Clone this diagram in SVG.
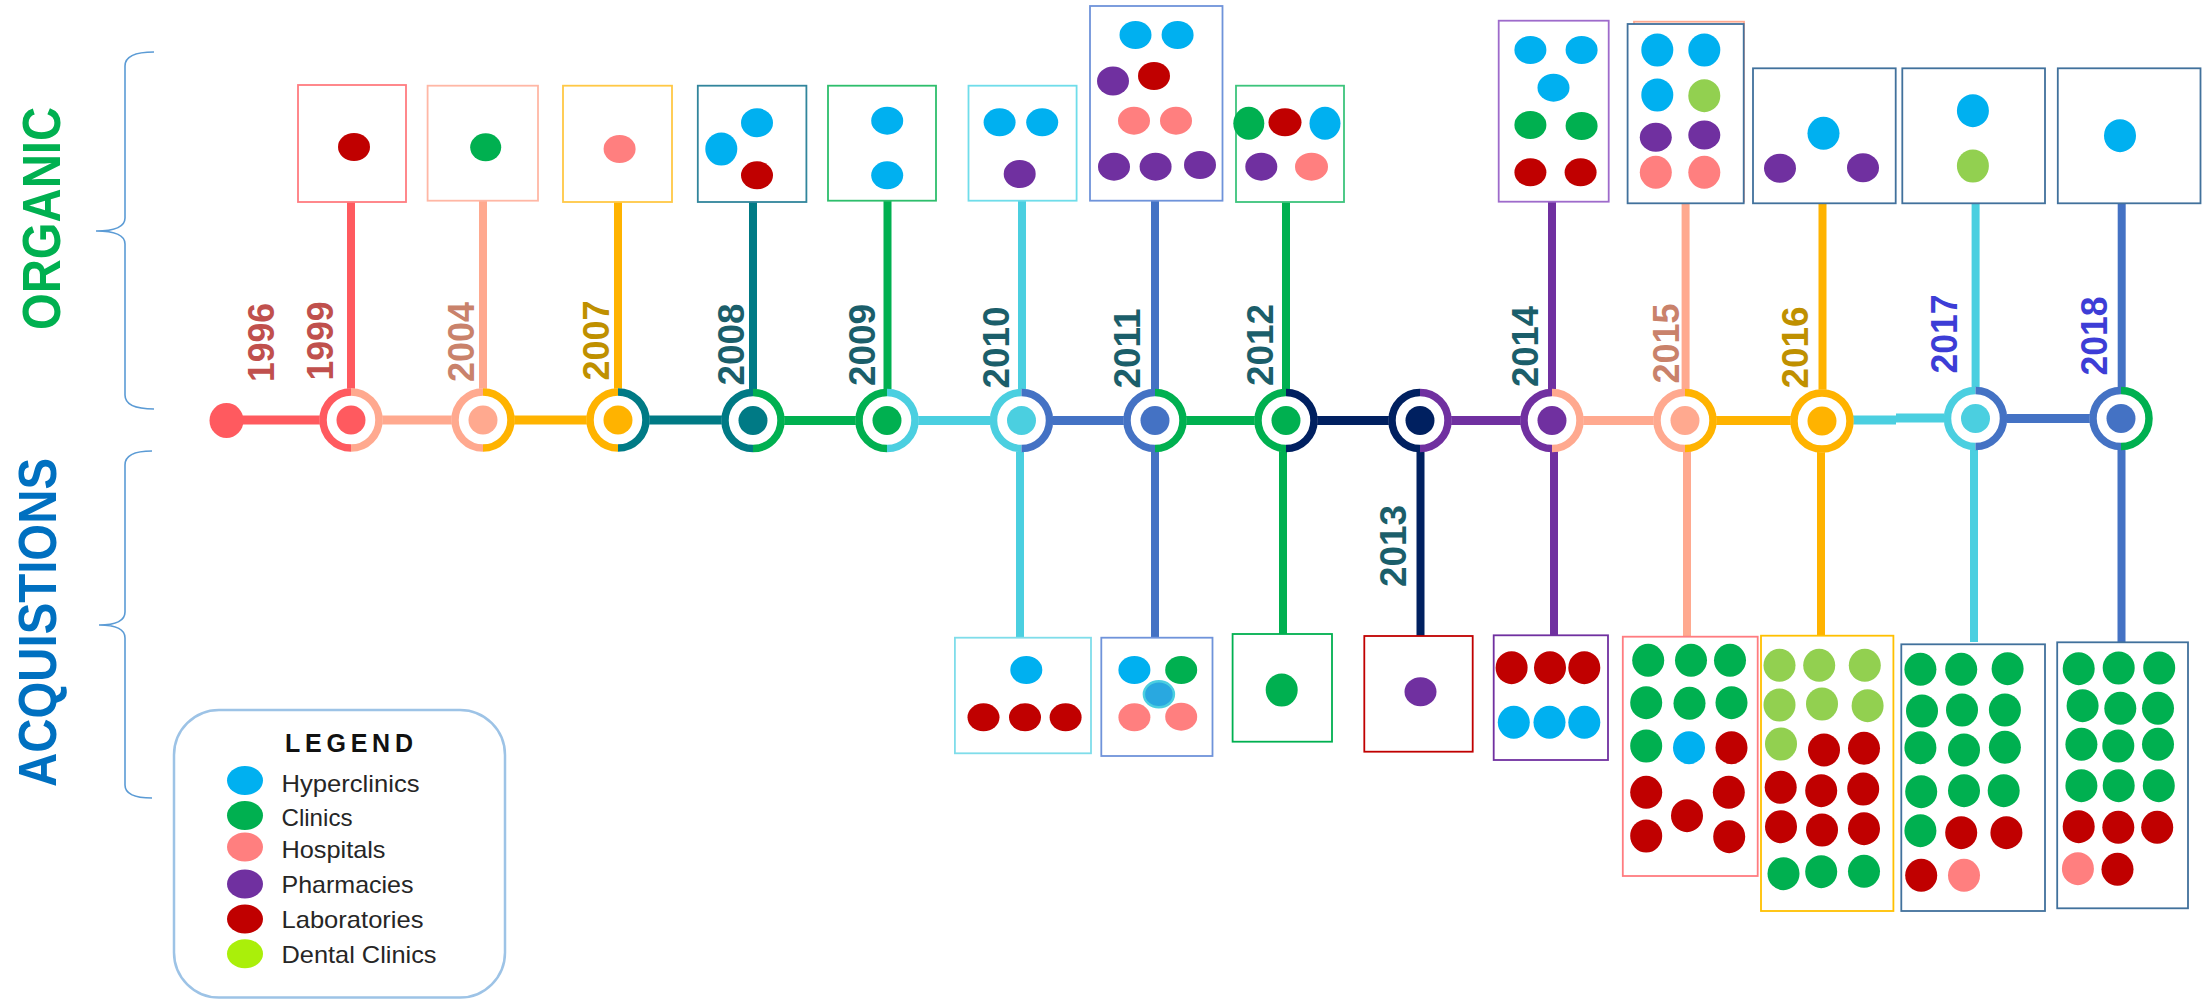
<svg xmlns="http://www.w3.org/2000/svg" width="2202" height="1001" viewBox="0 0 2202 1001">
<style>
.bx{fill:#fff;stroke-width:1.8}
.c{fill:#00B0F0}.g{fill:#00B050}.p{fill:#FF7F7F}.u{fill:#7030A0}.r{fill:#C00000}.l{fill:#92D050}
.yr{font-family:"Liberation Sans",Arial,sans-serif;font-weight:bold;font-size:37.5px}
.big{font-family:"Liberation Sans",Arial,sans-serif;font-weight:bold;font-size:53px}
.lg{font-family:"Liberation Sans",Arial,sans-serif;font-size:24px;fill:#262626}
.rg{fill:none;stroke-width:7.5}
.hl{fill:#fff}
.brace{fill:none;stroke:#5B9BD5;stroke-width:1.6}
.seg{stroke-width:9;fill:none}
.vl{stroke-width:8;fill:none}
</style>

<!-- side labels and braces -->
<g id="side">
<text class="big" fill="#00B050" transform="translate(60,330) rotate(-90)" textLength="223" lengthAdjust="spacingAndGlyphs">ORGANIC</text>
<text class="big" fill="#0070C0" transform="translate(56,787) rotate(-90)" textLength="329" lengthAdjust="spacingAndGlyphs">ACQUISTIONS</text>
<path class="brace" d="M154,52 Q125,52 125,66 L125,218 Q125,231 96,231 Q125,231 125,244 L125,395 Q125,409 154,409"/>
<path class="brace" d="M152,451 Q125,451 125,465 L125,612 Q125,625 99,625 Q125,625 125,638 L125,785 Q125,798 152,798"/>
</g>

<!-- connectors -->
<g id="connectors">
<line class="seg" x1="227" y1="420" x2="351" y2="420" stroke="#FF5A5F"/>
<line class="seg" x1="351" y1="420" x2="483" y2="420" stroke="#FFA98F"/>
<line class="seg" x1="483" y1="420" x2="618" y2="420" stroke="#FFB300"/>
<line class="seg" x1="618" y1="420" x2="753" y2="420" stroke="#007A85"/>
<line class="seg" x1="753" y1="420.5" x2="887" y2="420.5" stroke="#00B050"/>
<line class="seg" x1="887" y1="420.5" x2="1021.5" y2="420.5" stroke="#4BCFE0"/>
<line class="seg" x1="1021.5" y1="420.5" x2="1155" y2="420.5" stroke="#4472C4"/>
<line class="seg" x1="1155" y1="420.5" x2="1286" y2="420.5" stroke="#00B050"/>
<line class="seg" x1="1286" y1="420.5" x2="1420" y2="420.5" stroke="#002060"/>
<line class="seg" x1="1420" y1="420.5" x2="1552" y2="420.5" stroke="#7030A0"/>
<line class="seg" x1="1552" y1="420.5" x2="1685" y2="420.5" stroke="#FFA98F"/>
<line class="seg" x1="1685" y1="420.5" x2="1822" y2="420.5" stroke="#FFB300"/>
<line class="seg" x1="1822" y1="420" x2="1896" y2="420" stroke="#4BCFE0"/>
<line class="seg" x1="1896" y1="418" x2="1975.5" y2="418" stroke="#4BCFE0"/>
<line class="seg" x1="1975.5" y1="418.5" x2="2121" y2="418.5" stroke="#4472C4" stroke-width="10"/>

<line class="vl" x1="351" y1="202" x2="351" y2="420" stroke="#FF5A5F"/>
<line class="vl" x1="483" y1="200" x2="483" y2="420" stroke="#FFA98F"/>
<line class="vl" x1="618" y1="202" x2="618" y2="420" stroke="#FFB300"/>
<line class="vl" x1="753" y1="202" x2="753" y2="420" stroke="#007A85"/>
<line class="vl" x1="887.5" y1="200" x2="887.5" y2="420" stroke="#00B050"/>
<line class="vl" x1="1022" y1="200" x2="1022" y2="420" stroke="#4BCFE0"/>
<line class="vl" x1="1155" y1="200" x2="1155" y2="420" stroke="#4472C4"/>
<line class="vl" x1="1286" y1="202" x2="1286" y2="420" stroke="#00B050"/>
<line class="vl" x1="1552" y1="201" x2="1552" y2="420" stroke="#7030A0"/>
<line class="vl" x1="1685.6" y1="203" x2="1685.6" y2="420" stroke="#FFA98F"/>
<line class="vl" x1="1822.5" y1="203" x2="1822.5" y2="420" stroke="#FFB300"/>
<line class="vl" x1="1975.6" y1="203" x2="1975.6" y2="418" stroke="#4BCFE0"/>
<line class="vl" x1="2121.7" y1="203" x2="2121.7" y2="418" stroke="#4472C4"/>

<line class="vl" x1="1020" y1="420" x2="1020" y2="638" stroke="#4BCFE0"/>
<line class="vl" x1="1155" y1="420" x2="1155" y2="638" stroke="#4472C4"/>
<line class="vl" x1="1283" y1="420" x2="1283" y2="634" stroke="#00B050"/>
<line class="vl" x1="1420.5" y1="420" x2="1420.5" y2="636" stroke="#002060"/>
<line class="vl" x1="1554" y1="420" x2="1554" y2="635" stroke="#7030A0"/>
<line class="vl" x1="1687" y1="420" x2="1687" y2="637" stroke="#FFA98F"/>
<line class="vl" x1="1821" y1="420" x2="1821" y2="636" stroke="#FFB300"/>
<line class="vl" x1="1974" y1="418" x2="1974" y2="642" stroke="#4BCFE0"/>
<line class="vl" x1="2121.5" y1="418" x2="2121.5" y2="642" stroke="#4472C4"/>
</g>

<!-- 1996 -->
<g id="y1996">
<ellipse cx="226.5" cy="420.5" rx="17" ry="17.5" fill="#FF5A5F"/>
<text class="yr" fill="#C0504D" transform="translate(274,382) rotate(-90)" textLength="79" lengthAdjust="spacingAndGlyphs">1996</text>
</g>

<!-- 1999 -->
<g id="y1999">
<rect class="bx" x="298" y="85" width="108" height="117" stroke="#FF7C80"/>
<ellipse class="r" cx="354" cy="147" rx="16" ry="14"/>
<circle class="hl" cx="351" cy="420" r="31.5"/>
<path class="rg" stroke="#FF5A5F" d="M351,392 A28,28 0 0 0 351,448"/>
<path class="rg" stroke="#FFA98F" d="M351,392 A28,28 0 0 1 351,448"/>
<circle cx="351" cy="420" r="14.5" fill="#FF5A5F"/>
<text class="yr" fill="#C0504D" transform="translate(333,380.5) rotate(-90)" textLength="79" lengthAdjust="spacingAndGlyphs">1999</text>
</g>

<!-- 2004 -->
<g id="y2004">
<rect class="bx" x="427.6" y="85.7" width="110.4" height="115" stroke="#FFB7A5"/>
<ellipse class="g" cx="485.7" cy="147.3" rx="15.5" ry="14"/>
<circle class="hl" cx="483" cy="420" r="31.5"/>
<path class="rg" stroke="#FFA98F" d="M483,392 A28,28 0 0 0 483,448"/>
<path class="rg" stroke="#FFB300" d="M483,392 A28,28 0 0 1 483,448"/>
<circle cx="483" cy="420" r="14.5" fill="#FFA98F"/>
<text class="yr" fill="#C9826B" transform="translate(474,382) rotate(-90)" textLength="80" lengthAdjust="spacingAndGlyphs">2004</text>
</g>

<!-- 2007 -->
<g id="y2007">
<rect class="bx" x="563" y="85.7" width="109" height="116.3" stroke="#FFC845"/>
<ellipse class="p" cx="619.6" cy="149" rx="16" ry="14"/>
<circle class="hl" cx="618" cy="420" r="31.5"/>
<path class="rg" stroke="#FFB300" d="M618,392 A28,28 0 0 0 618,448"/>
<path class="rg" stroke="#007A85" d="M618,392 A28,28 0 0 1 618,448"/>
<circle cx="618" cy="420" r="14.5" fill="#FFB300"/>
<text class="yr" fill="#BF9000" transform="translate(609,380.5) rotate(-90)" textLength="80" lengthAdjust="spacingAndGlyphs">2007</text>
</g>

<!-- 2008 -->
<g id="y2008">
<rect class="bx" x="697.8" y="85.7" width="108.6" height="116.3" stroke="#31859C"/>
<ellipse class="c" cx="757" cy="122.7" rx="16" ry="14.5"/>
<ellipse class="c" cx="721.3" cy="149" rx="16" ry="16.5"/>
<ellipse class="r" cx="757" cy="175.3" rx="16" ry="14"/>
<circle class="hl" cx="753" cy="420.5" r="31.5"/>
<path class="rg" stroke="#007A85" d="M753,392.5 A28,28 0 0 0 753,448.5"/>
<path class="rg" stroke="#00B050" d="M753,392.5 A28,28 0 0 1 753,448.5"/>
<circle cx="753" cy="420.5" r="14.5" fill="#007A85"/>
<text class="yr" fill="#1B5E6A" transform="translate(743.5,385.5) rotate(-90)" textLength="82" lengthAdjust="spacingAndGlyphs">2008</text>
</g>

<!-- 2009 -->
<g id="y2009">
<rect class="bx" x="828" y="85.7" width="108" height="115" stroke="#2DBE6C"/>
<ellipse class="c" cx="887.2" cy="120.7" rx="16" ry="14"/>
<ellipse class="c" cx="887.2" cy="175.3" rx="16" ry="14"/>
<circle class="hl" cx="887" cy="420.5" r="31.5"/>
<path class="rg" stroke="#00B050" d="M887,392.5 A28,28 0 0 0 887,448.5"/>
<path class="rg" stroke="#4BCFE0" d="M887,392.5 A28,28 0 0 1 887,448.5"/>
<circle cx="887" cy="420.5" r="14.5" fill="#00B050"/>
<text class="yr" fill="#1B5E6A" transform="translate(874.5,386) rotate(-90)" textLength="82" lengthAdjust="spacingAndGlyphs">2009</text>
</g>

<!-- 2010 -->
<g id="y2010">
<rect class="bx" x="968.5" y="85.7" width="108.1" height="115" stroke="#6FDDEA"/>
<ellipse class="c" cx="999.6" cy="122.3" rx="16" ry="14"/>
<ellipse class="c" cx="1042.2" cy="122.3" rx="16" ry="14"/>
<ellipse class="u" cx="1019.7" cy="174" rx="16" ry="14"/>
<rect class="bx" x="954.9" y="637.7" width="136.1" height="115.6" stroke="#7FDDEA"/>
<ellipse class="c" cx="1026.3" cy="670" rx="16" ry="14"/>
<ellipse class="r" cx="983.5" cy="717.3" rx="16" ry="14"/>
<ellipse class="r" cx="1025" cy="717.3" rx="16" ry="14"/>
<ellipse class="r" cx="1065.6" cy="717.3" rx="16" ry="14"/>
<circle class="hl" cx="1021.5" cy="420.5" r="31.5"/>
<path class="rg" stroke="#4BCFE0" d="M1021.5,392.5 A28,28 0 0 0 1021.5,448.5"/>
<path class="rg" stroke="#4472C4" d="M1021.5,392.5 A28,28 0 0 1 1021.5,448.5"/>
<circle cx="1021.5" cy="420.5" r="14.5" fill="#4BCFE0"/>
<text class="yr" fill="#1B5E6A" transform="translate(1009,388.5) rotate(-90)" textLength="82" lengthAdjust="spacingAndGlyphs">2010</text>
</g>

<!-- 2011 -->
<g id="y2011">
<rect class="bx" x="1090" y="6" width="132.5" height="194.7" stroke="#6F93DA"/>
<ellipse class="c" cx="1135.5" cy="35" rx="16" ry="14"/>
<ellipse class="c" cx="1177.6" cy="35" rx="16" ry="14"/>
<ellipse class="u" cx="1113" cy="81" rx="16" ry="14.5"/>
<ellipse class="r" cx="1154" cy="76" rx="16" ry="14"/>
<ellipse class="p" cx="1134" cy="120.7" rx="16" ry="14"/>
<ellipse class="p" cx="1176" cy="120.7" rx="16" ry="14"/>
<ellipse class="u" cx="1114" cy="166.7" rx="16" ry="14"/>
<ellipse class="u" cx="1155.6" cy="166.7" rx="16" ry="14"/>
<ellipse class="u" cx="1200" cy="165" rx="16" ry="14"/>
<rect class="bx" x="1101.3" y="637.7" width="111.2" height="118.3" stroke="#6F93DA"/>
<ellipse class="c" cx="1134.4" cy="670" rx="16" ry="14"/>
<ellipse class="g" cx="1181.2" cy="670" rx="16" ry="14"/>
<ellipse class="p" cx="1134.4" cy="717.3" rx="16" ry="14"/>
<ellipse class="p" cx="1181.2" cy="716.7" rx="16" ry="14"/>
<ellipse cx="1158.9" cy="694.3" rx="15" ry="13" fill="#29A8E0" stroke="#4BCFE0" stroke-width="2.5"/>
<circle class="hl" cx="1155" cy="420.5" r="31.5"/>
<path class="rg" stroke="#4472C4" d="M1155,392.5 A28,28 0 0 0 1155,448.5"/>
<path class="rg" stroke="#00B050" d="M1155,392.5 A28,28 0 0 1 1155,448.5"/>
<circle cx="1155" cy="420.5" r="14.5" fill="#4472C4"/>
<text class="yr" fill="#1B5E6A" transform="translate(1139.5,388.5) rotate(-90)" textLength="80" lengthAdjust="spacingAndGlyphs">2011</text>
</g>

<!-- 2012 -->
<g id="y2012">
<rect class="bx" x="1236" y="85.7" width="108" height="116.3" stroke="#3CC47C"/>
<ellipse class="g" cx="1248.8" cy="123.3" rx="15.5" ry="16.5"/>
<ellipse class="r" cx="1285" cy="122.3" rx="16.5" ry="14"/>
<ellipse class="c" cx="1325" cy="123.3" rx="15.5" ry="16.5"/>
<ellipse class="u" cx="1261.3" cy="166.7" rx="16" ry="14"/>
<ellipse class="p" cx="1311.5" cy="166.7" rx="16.5" ry="14"/>
<rect class="bx" x="1232.6" y="634" width="99.4" height="107.7" stroke="#00B050" stroke-width="2.5"/>
<ellipse class="g" cx="1281.7" cy="690" rx="16" ry="16.5"/>
<circle class="hl" cx="1286" cy="420.5" r="31.5"/>
<path class="rg" stroke="#00B050" d="M1286,392.5 A28,28 0 0 0 1286,448.5"/>
<path class="rg" stroke="#002060" d="M1286,392.5 A28,28 0 0 1 1286,448.5"/>
<circle cx="1286" cy="420.5" r="14.5" fill="#00B050"/>
<text class="yr" fill="#1B5E6A" transform="translate(1272.5,386) rotate(-90)" textLength="82" lengthAdjust="spacingAndGlyphs">2012</text>
</g>

<!-- 2013 -->
<g id="y2013">
<rect class="bx" x="1364.3" y="636" width="108.4" height="115.7" stroke="#C00000" stroke-width="2"/>
<ellipse class="u" cx="1420.5" cy="691.7" rx="16" ry="14.5"/>
<circle class="hl" cx="1420" cy="420.5" r="31.5"/>
<path class="rg" stroke="#002060" d="M1420,392.5 A28,28 0 0 0 1420,448.5"/>
<path class="rg" stroke="#7030A0" d="M1420,392.5 A28,28 0 0 1 1420,448.5"/>
<circle cx="1420" cy="420.5" r="14.5" fill="#002060"/>
<text class="yr" fill="#1B5E6A" transform="translate(1405.5,587) rotate(-90)" textLength="82" lengthAdjust="spacingAndGlyphs">2013</text>
</g>

<!-- 2014 -->
<g id="y2014">
<rect class="bx" x="1498.7" y="20.7" width="110" height="181" stroke="#9E6BCB"/>
<ellipse class="c" cx="1530.4" cy="50" rx="16" ry="14"/>
<ellipse class="c" cx="1581.6" cy="50" rx="16" ry="14"/>
<ellipse class="c" cx="1553.5" cy="87.7" rx="16" ry="14"/>
<ellipse class="g" cx="1530.4" cy="125" rx="16" ry="14"/>
<ellipse class="g" cx="1581.6" cy="126" rx="16" ry="14"/>
<ellipse class="r" cx="1530.4" cy="172.3" rx="16" ry="14"/>
<ellipse class="r" cx="1580.6" cy="172.3" rx="16" ry="14"/>
<rect class="bx" x="1493.7" y="635.3" width="114.3" height="124.7" stroke="#7030A0" stroke-width="2.5"/>
<ellipse class="r" cx="1511.6" cy="667.7" rx="16" ry="16.5"/>
<ellipse class="r" cx="1550" cy="667.7" rx="16" ry="16.5"/>
<ellipse class="r" cx="1584.3" cy="667.7" rx="16" ry="16.5"/>
<ellipse class="c" cx="1513.8" cy="722.3" rx="16" ry="16.5"/>
<ellipse class="c" cx="1549.5" cy="722.3" rx="16" ry="16.5"/>
<ellipse class="c" cx="1584.3" cy="722.3" rx="16" ry="16.5"/>
<circle class="hl" cx="1552" cy="420.5" r="31.5"/>
<path class="rg" stroke="#7030A0" d="M1552,392.5 A28,28 0 0 0 1552,448.5"/>
<path class="rg" stroke="#FFA98F" d="M1552,392.5 A28,28 0 0 1 1552,448.5"/>
<circle cx="1552" cy="420.5" r="14.5" fill="#7030A0"/>
<text class="yr" fill="#1B5E6A" transform="translate(1537.5,387) rotate(-90)" textLength="81" lengthAdjust="spacingAndGlyphs">2014</text>
</g>

<!-- 2015 -->
<g id="y2015">
<rect class="bx" x="1634" y="21.7" width="110" height="180" stroke="#FFA98F"/>
<rect class="bx" x="1627.6" y="24" width="116.1" height="179.3" stroke="#41719C" stroke-width="2.5"/>
<ellipse class="c" cx="1657.3" cy="50" rx="16" ry="16.5"/>
<ellipse class="c" cx="1704.3" cy="50" rx="16" ry="16.5"/>
<ellipse class="c" cx="1657.3" cy="95" rx="16" ry="16.5"/>
<ellipse class="l" cx="1704.3" cy="95.7" rx="16" ry="16.5"/>
<ellipse class="u" cx="1655.8" cy="137.3" rx="16" ry="14.5"/>
<ellipse class="u" cx="1704.3" cy="135" rx="16" ry="14.5"/>
<ellipse class="p" cx="1655.8" cy="172.3" rx="16" ry="16.5"/>
<ellipse class="p" cx="1704.3" cy="172.3" rx="16" ry="16.5"/>
<rect class="bx" x="1622.8" y="636.7" width="134.9" height="239.3" stroke="#FF7C80" stroke-width="2.5"/>
<ellipse class="g" cx="1648.2" cy="660.3" rx="16" ry="16.5"/>
<ellipse class="g" cx="1691" cy="660.3" rx="16" ry="16.5"/>
<ellipse class="g" cx="1730" cy="660.3" rx="16" ry="16.5"/>
<ellipse class="g" cx="1646.2" cy="702.7" rx="16" ry="16.5"/>
<ellipse class="g" cx="1689.5" cy="703.3" rx="16" ry="16.5"/>
<ellipse class="g" cx="1731.5" cy="702.7" rx="16" ry="16.5"/>
<ellipse class="g" cx="1646.2" cy="746" rx="16" ry="16.5"/>
<ellipse class="c" cx="1689" cy="747.7" rx="16" ry="16.5"/>
<ellipse class="r" cx="1731.5" cy="747.7" rx="16" ry="16.5"/>
<ellipse class="r" cx="1646.2" cy="792.3" rx="16" ry="16.5"/>
<ellipse class="r" cx="1687" cy="815.7" rx="16" ry="16.5"/>
<ellipse class="r" cx="1728.8" cy="792.3" rx="16" ry="16.5"/>
<ellipse class="r" cx="1646.2" cy="836" rx="16" ry="16.5"/>
<ellipse class="r" cx="1729.2" cy="836.7" rx="16" ry="16.5"/>
<circle class="hl" cx="1685" cy="420.5" r="31.5"/>
<path class="rg" stroke="#FFA98F" d="M1685,392.5 A28,28 0 0 0 1685,448.5"/>
<path class="rg" stroke="#FFB300" d="M1685,392.5 A28,28 0 0 1 1685,448.5"/>
<circle cx="1685" cy="420.5" r="14.5" fill="#FFA98F"/>
<text class="yr" fill="#C9826B" transform="translate(1679,383.5) rotate(-90)" textLength="80" lengthAdjust="spacingAndGlyphs">2015</text>
</g>

<!-- 2016 -->
<g id="y2016">
<rect class="bx" x="1753" y="68.3" width="142.7" height="135" stroke="#41719C" stroke-width="2.5"/>
<ellipse class="c" cx="1823.5" cy="133.3" rx="16" ry="16.5"/>
<ellipse class="u" cx="1780" cy="168.3" rx="16" ry="14.5"/>
<ellipse class="u" cx="1863" cy="167.7" rx="16" ry="14.5"/>
<rect class="bx" x="1761" y="635.7" width="132.4" height="275.3" stroke="#FFC000" stroke-width="3"/>
<ellipse class="l" cx="1779.5" cy="665.3" rx="16" ry="16.5"/>
<ellipse class="l" cx="1819.2" cy="665.3" rx="16" ry="16.5"/>
<ellipse class="l" cx="1864.8" cy="665.3" rx="16" ry="16.5"/>
<ellipse class="l" cx="1779.5" cy="705" rx="16" ry="16.5"/>
<ellipse class="l" cx="1822" cy="704" rx="16" ry="16.5"/>
<ellipse class="l" cx="1867.6" cy="705.7" rx="16" ry="16.5"/>
<ellipse class="l" cx="1781" cy="744" rx="16" ry="16.5"/>
<ellipse class="r" cx="1824" cy="750" rx="16" ry="16.5"/>
<ellipse class="r" cx="1864" cy="748.3" rx="16" ry="16.5"/>
<ellipse class="r" cx="1780.7" cy="787.3" rx="16" ry="16.5"/>
<ellipse class="r" cx="1821.2" cy="790.7" rx="16" ry="16.5"/>
<ellipse class="r" cx="1863.2" cy="789" rx="16" ry="16.5"/>
<ellipse class="r" cx="1781" cy="826.7" rx="16" ry="16.5"/>
<ellipse class="r" cx="1822" cy="830" rx="16" ry="16.5"/>
<ellipse class="r" cx="1864" cy="828.7" rx="16" ry="16.5"/>
<ellipse class="g" cx="1783.5" cy="873.7" rx="16" ry="16.5"/>
<ellipse class="g" cx="1821.2" cy="871.7" rx="16" ry="16.5"/>
<ellipse class="g" cx="1864" cy="871.3" rx="16" ry="16.5"/>
<circle class="hl" cx="1822" cy="421" r="31.5"/>
<circle class="rg" stroke="#FFB300" cx="1822" cy="421" r="28"/>
<circle cx="1822" cy="421" r="14.5" fill="#FFB300"/>
<text class="yr" fill="#BF9000" transform="translate(1808,388.5) rotate(-90)" textLength="82" lengthAdjust="spacingAndGlyphs">2016</text>
</g>

<!-- 2017 -->
<g id="y2017">
<rect class="bx" x="1902.3" y="68.3" width="142.7" height="135" stroke="#41719C" stroke-width="2.5"/>
<ellipse class="c" cx="1972.9" cy="110.7" rx="16" ry="16.5"/>
<ellipse class="l" cx="1972.9" cy="166" rx="16" ry="16.5"/>
<rect class="bx" x="1901.3" y="644.3" width="143.7" height="266.7" stroke="#41719C" stroke-width="3"/>
<ellipse class="g" cx="1920.4" cy="669.3" rx="16" ry="16.5"/>
<ellipse class="g" cx="1961.2" cy="669.3" rx="16" ry="16.5"/>
<ellipse class="g" cx="2007.6" cy="668.7" rx="16" ry="16.5"/>
<ellipse class="g" cx="1922" cy="711" rx="16" ry="16.5"/>
<ellipse class="g" cx="1962" cy="710" rx="16" ry="16.5"/>
<ellipse class="g" cx="2004.9" cy="710" rx="16" ry="16.5"/>
<ellipse class="g" cx="1920.4" cy="747.7" rx="16" ry="16.5"/>
<ellipse class="g" cx="1964" cy="750" rx="16" ry="16.5"/>
<ellipse class="g" cx="2004.9" cy="747.3" rx="16" ry="16.5"/>
<ellipse class="g" cx="1921.2" cy="791.7" rx="16" ry="16.5"/>
<ellipse class="g" cx="1964" cy="790.7" rx="16" ry="16.5"/>
<ellipse class="g" cx="2003.7" cy="790.7" rx="16" ry="16.5"/>
<ellipse class="g" cx="1920.4" cy="830.7" rx="16" ry="16.5"/>
<ellipse class="r" cx="1961.2" cy="832.7" rx="16" ry="16.5"/>
<ellipse class="r" cx="2006.4" cy="832.7" rx="16" ry="16.5"/>
<ellipse class="r" cx="1921.2" cy="875.3" rx="16" ry="16.5"/>
<ellipse class="p" cx="1964" cy="875.3" rx="16" ry="16.5"/>
<circle class="hl" cx="1975.5" cy="418.5" r="31.5"/>
<path class="rg" stroke="#4BCFE0" d="M1975.5,390.5 A28,28 0 0 0 1975.5,446.5"/>
<path class="rg" stroke="#4472C4" d="M1975.5,390.5 A28,28 0 0 1 1975.5,446.5"/>
<circle cx="1975.5" cy="418.5" r="14.5" fill="#4BCFE0"/>
<text class="yr" fill="#3D3DD6" transform="translate(1957,373.5) rotate(-90)" textLength="79" lengthAdjust="spacingAndGlyphs">2017</text>
</g>

<!-- 2018 -->
<g id="y2018">
<rect class="bx" x="2057.8" y="68.3" width="142.7" height="135" stroke="#41719C" stroke-width="2.5"/>
<ellipse class="c" cx="2120" cy="135.7" rx="16" ry="16.5"/>
<rect class="bx" x="2057.2" y="642.3" width="130.8" height="266" stroke="#41719C" stroke-width="3"/>
<ellipse class="g" cx="2078.7" cy="668.7" rx="16" ry="16.5"/>
<ellipse class="g" cx="2118.7" cy="668" rx="16" ry="16.5"/>
<ellipse class="g" cx="2159.2" cy="668" rx="16" ry="16.5"/>
<ellipse class="g" cx="2082.6" cy="705.7" rx="16" ry="16.5"/>
<ellipse class="g" cx="2120.3" cy="708.3" rx="16" ry="16.5"/>
<ellipse class="g" cx="2158" cy="708.3" rx="16" ry="16.5"/>
<ellipse class="g" cx="2081.4" cy="744.3" rx="16" ry="16.5"/>
<ellipse class="g" cx="2118.3" cy="746" rx="16" ry="16.5"/>
<ellipse class="g" cx="2158" cy="744.3" rx="16" ry="16.5"/>
<ellipse class="g" cx="2081.4" cy="785.7" rx="16" ry="16.5"/>
<ellipse class="g" cx="2118.7" cy="785.7" rx="16" ry="16.5"/>
<ellipse class="g" cx="2158.8" cy="785.7" rx="16" ry="16.5"/>
<ellipse class="r" cx="2078.7" cy="826.7" rx="16" ry="16.5"/>
<ellipse class="r" cx="2118.3" cy="827.3" rx="16" ry="16.5"/>
<ellipse class="r" cx="2157.2" cy="827.3" rx="16" ry="16.5"/>
<ellipse class="p" cx="2077.9" cy="868.7" rx="16" ry="16.5"/>
<ellipse class="r" cx="2117.5" cy="869.3" rx="16" ry="16.5"/>
<circle class="hl" cx="2121" cy="418.5" r="31.5"/>
<path class="rg" stroke="#4472C4" d="M2121,390.5 A28,28 0 0 0 2121,446.5"/>
<path class="rg" stroke="#00B050" d="M2121,390.5 A28,28 0 0 1 2121,446.5"/>
<circle cx="2121" cy="418.5" r="14.5" fill="#4472C4"/>
<text class="yr" fill="#3D3DD6" transform="translate(2107,375.5) rotate(-90)" textLength="79" lengthAdjust="spacingAndGlyphs">2018</text>
</g>

<!-- legend -->
<g id="legend">
<rect x="174" y="710" width="331" height="287.5" rx="45" ry="45" fill="#fff" stroke="#9DC3E6" stroke-width="2.5"/>
<text x="285" y="751.5" font-family="'Liberation Sans',Arial,sans-serif" font-weight="bold" font-size="25" fill="#111" textLength="128" lengthAdjust="spacing">LEGEND</text>
<ellipse class="c" cx="245" cy="780.5" rx="18" ry="14.5"/>
<ellipse class="g" cx="245" cy="815.5" rx="18" ry="14.5"/>
<ellipse class="p" cx="245" cy="847" rx="18" ry="14.5"/>
<ellipse class="u" cx="245" cy="884" rx="18" ry="14.5"/>
<ellipse class="r" cx="245" cy="919" rx="18" ry="14.5"/>
<ellipse cx="245" cy="953.7" rx="18" ry="14.5" fill="#AAEF0A"/>
<text class="lg" x="281.5" y="791.7" textLength="138" lengthAdjust="spacingAndGlyphs">Hyperclinics</text>
<text class="lg" x="281.5" y="826" textLength="71" lengthAdjust="spacingAndGlyphs">Clinics</text>
<text class="lg" x="281.5" y="857.7" textLength="104" lengthAdjust="spacingAndGlyphs">Hospitals</text>
<text class="lg" x="281.5" y="892.7" textLength="132" lengthAdjust="spacingAndGlyphs">Pharmacies</text>
<text class="lg" x="281.5" y="928.3" textLength="142" lengthAdjust="spacingAndGlyphs">Laboratories</text>
<text class="lg" x="281.5" y="963.3" textLength="155" lengthAdjust="spacingAndGlyphs">Dental Clinics</text>
</g>
</svg>
